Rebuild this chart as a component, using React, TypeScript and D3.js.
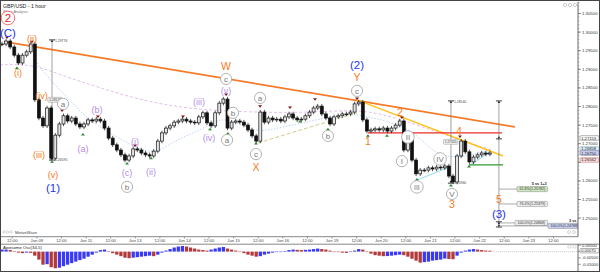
import React from "react";
import * as d3 from "d3";

// ---------- DATA ----------
// 2-hour closes, GBP/USD
const closes = [
  1.2968, 1.2976, 1.296, 1.2938, 1.2917, 1.2938, 1.2947, 1.2968, 1.2818, 1.2769,
  1.2748, 1.2796, 1.2661, 1.2723, 1.2753, 1.2775, 1.2761, 1.2769, 1.2753, 1.2745,
  1.2753, 1.2764, 1.2761, 1.2766, 1.2761, 1.2742, 1.2715, 1.2697, 1.2683, 1.267,
  1.2656, 1.2667, 1.2686, 1.2683, 1.2675, 1.267, 1.2667, 1.268, 1.2707, 1.2729,
  1.2742, 1.2748, 1.2758, 1.2761, 1.2766, 1.2761, 1.2758, 1.2756, 1.2772, 1.2783,
  1.2756, 1.2748, 1.2783, 1.2809, 1.282, 1.2742, 1.2758, 1.2761, 1.2758, 1.275,
  1.2737, 1.2721, 1.2707, 1.2785, 1.2758, 1.2769, 1.2764, 1.2766, 1.2761, 1.2772,
  1.278, 1.2769, 1.2764, 1.2766, 1.2775, 1.2785, 1.2796, 1.2801, 1.278, 1.2769,
  1.2753, 1.2772, 1.2775, 1.278, 1.278, 1.2785, 1.2807, 1.2812, 1.2764, 1.2734,
  1.2737, 1.274, 1.2737, 1.2742, 1.2734, 1.2742, 1.275, 1.2761, 1.2683, 1.271,
  1.2656, 1.2619, 1.2629, 1.2629, 1.2635, 1.2632, 1.2637, 1.2635, 1.264, 1.2613,
  1.2597, 1.2667, 1.2707, 1.2678, 1.2651, 1.2664, 1.267, 1.2675, 1.2672, 1.2675,
];
const HOURS_PER_BAR = 2;

// Awesome Oscillator (34,5)
const aoValues = [
  0.0016, 0.0016, 0.0012, 0.0002, -0.0008, -0.0012, -0.0008, -0.001, -0.0032, -0.0063,
  -0.0103, -0.0099, -0.0123, -0.0131, -0.0127, -0.0115, -0.0103, -0.0091, -0.0079, -0.0067,
  -0.0056, -0.004, -0.0024, -0.0008, 0.0012, 0.0016, 0.0004, -0.0012, -0.0024, -0.0036,
  -0.0048, -0.0052, -0.0048, -0.0044, -0.004, -0.0036, -0.0032, -0.0036, -0.0024, -0.0008,
  0.0008, 0.002, 0.0032, 0.004, 0.0044, 0.004, 0.0032, 0.0024, 0.0016, 0.0012,
  0.0008, 0.0016, 0.0024, 0.0032, 0.0036, 0.0024, 0.0016, 0.0008, 0.0, -0.0012,
  -0.0024, -0.0032, -0.004, -0.0036, -0.0024, -0.0016, -0.0008, -0.0004, 0.0, 0.0004,
  0.0012, 0.0016, 0.0014, 0.0012, 0.0014, 0.0016, 0.002, 0.0024, 0.002, 0.0016,
  0.0008, 0.0, -0.0004, -0.0008, -0.001, 0.0, 0.0008, 0.002, 0.0016, 0.0,
  -0.0016, -0.0028, -0.0032, -0.0036, -0.0035, -0.0032, -0.0028, -0.0024, -0.0028, -0.004,
  -0.0056, -0.0071, -0.0087, -0.0083, -0.0079, -0.0071, -0.0067, -0.0063, -0.0055, -0.0058,
  -0.006, -0.0032, -0.0008, 0.0008, 0.0016, 0.002, 0.0016, 0.0012, 0.0008, 0.0007,
];

const timeTickHours = d3.range(5, 270, 12);
const timeTickLabels = [
  "12:00", "Jun 09", "12:00", "Jun 11", "12:00", "Jun 13", "12:00", "Jun 14", "12:00", "Jun 15",
  "12:00", "Jun 16", "12:00", "Jun 19", "12:00", "Jun 20", "12:00", "Jun 21", "12:00", "Jun 22",
  "12:00", "Jun 23", "12:00",
];
const priceTicks = [1.305, 1.3, 1.295, 1.29, 1.285, 1.28, 1.275, 1.27, 1.265, 1.26, 1.255, 1.25];
const aoTicks = [0.005, 0.0, -0.005, -0.01];

// moving averages [hour, price]
const slowMA: [number, number][] = [
  [-1, 1.2912], [15.1, 1.2914], [28.3, 1.2885], [47.8, 1.285], [72.2, 1.281], [96.6, 1.2791],
  [121, 1.2785], [145.4, 1.2783], [169.8, 1.2791], [184.4, 1.2783], [203.9, 1.2748],
  [223.4, 1.271], [239, 1.2683],
];
const fastMA: [number, number][] = [
  [17.1, 1.2917], [23.4, 1.2871], [31.7, 1.2826], [39.5, 1.2777], [47.8, 1.2745], [56.1, 1.2718],
  [67.3, 1.2683], [75.6, 1.2675], [83.4, 1.2705], [93.2, 1.2729], [101.5, 1.275], [106.3, 1.2769],
  [116.1, 1.2756], [124.4, 1.2729], [137.1, 1.2745], [153.7, 1.2764], [169.8, 1.2783],
  [178, 1.2772], [185.9, 1.2764], [200.5, 1.2737], [208.8, 1.2683], [217.1, 1.2664],
  [224.9, 1.2664], [238, 1.2683],
];

// drawn trend lines [h1, p1, h2, p2]
const orangeTrend = [2.4, 1.2973, 250.2, 1.2745];
const yellowTrend = [173.2, 1.2818, 244.4, 1.2667];
const redLevel = [178.5, 1.2729, 243.9, 1.2729];
const greenLevel = [227.8, 1.2643, 244.4, 1.2643];
const oliveTrend = [124.9, 1.2702, 173.2, 1.2783];
const cyanLines = [
  [202.4, 1.2602, 217.1, 1.2635],
  [227.8, 1.264, 238, 1.2678],
];

// wave labels
type Lbl = { t: string; h: number; p: number };
const blueLabels: Lbl[] = [
  { t: "(C)", h: 2.9, p: 1.2998 }, { t: "(1)", h: 24.9, p: 1.2581 },
  { t: "(2)", h: 173.2, p: 1.2912 }, { t: "(3)", h: 242.4, p: 1.2511 },
];
const orangeBig: Lbl[] = [
  { t: "W", h: 109.3, p: 1.2909 }, { t: "X", h: 123.9, p: 1.2635 }, { t: "Y", h: 173.2, p: 1.2879 },
  { t: "1", h: 178.5, p: 1.2707 }, { t: "2", h: 194.1, p: 1.2785 }, { t: "3", h: 219.5, p: 1.2538 },
  { t: "4", h: 222.9, p: 1.2734 }, { t: "5", h: 242.4, p: 1.2551 },
];
const orangeSmall: Lbl[] = [
  { t: "(i)", h: 7.8, p: 1.289 }, { t: "(ii)", h: 14.6, p: 1.2981 }, { t: "(iii)", h: 18.0, p: 1.267 },
  { t: "(iv)", h: 19.3, p: 1.2828 }, { t: "(v)", h: 24.9, p: 1.2616 },
];
const purpleLabels: Lbl[] = [
  { t: "(a)", h: 39.5, p: 1.2686 }, { t: "(b)", h: 46.3, p: 1.2791 }, { t: "(c)", h: 61.0, p: 1.2621 },
  { t: "(i)", h: 64.9, p: 1.2705 }, { t: "(ii)", h: 72.7, p: 1.2624 }, { t: "(iii)", h: 96.1, p: 1.2812 },
  { t: "(iv)", h: 101.0, p: 1.2715 }, { t: "(v)", h: 109.3, p: 1.2842 },
];
const circleLabels: Lbl[] = [
  { t: "a", h: 29.8, p: 1.2807 }, { t: "b", h: 61.0, p: 1.2584 }, { t: "c", h: 109.3, p: 1.2874 },
  { t: "b", h: 112.7, p: 1.2783 }, { t: "a", h: 109.8, p: 1.271 }, { t: "c", h: 123.9, p: 1.2672 },
  { t: "a", h: 125.9, p: 1.2823 }, { t: "b", h: 159.0, p: 1.2721 }, { t: "c", h: 173.2, p: 1.2842 },
  { t: "I", h: 195.1, p: 1.2653 }, { t: "II", h: 198.0, p: 1.2718 }, { t: "III", h: 202.4, p: 1.2584 },
  { t: "IV", h: 213.7, p: 1.2659 }, { t: "V", h: 219.5, p: 1.2565 },
];
const redCircleLabel: Lbl = { t: "2", h: 2.9, p: 1.3038 };

// swing markers [hour, price]
const highMarks: [number, number][] = [
  [2.4, 1.2984], [14.6, 1.2973], [29.3, 1.2788], [46.8, 1.2772], [64.9, 1.2694], [88.3, 1.2772],
  [109.3, 1.2831], [125.9, 1.2799], [140.5, 1.2796], [152.7, 1.2818], [173.2, 1.282],
  [195.1, 1.2769], [223.4, 1.2718],
];
const lowMarks: [number, number][] = [
  [7.3, 1.2905], [24.4, 1.2653], [39.5, 1.2726], [61.0, 1.2648], [72.7, 1.2662], [101.5, 1.274],
  [110.2, 1.2729], [123.9, 1.2702], [145.4, 1.2761], [159.0, 1.274], [178.5, 1.2723],
  [187.8, 1.2723], [202.4, 1.2605], [219.0, 1.2589], [227.8, 1.264],
];

// measuring tools
const measureTools = [
  { h: 24.4, top: 1.2979, bottom: 1.2656, caps: [1.2979, 1.2656], topLbl: "1.29776", botLbl: "1.26595", box: { p: 1.2818, t: "1.28175", dh: 1.6 } },
  { h: 219.0, top: 1.2815, bottom: 1.2594, caps: [1.2815, 1.2594], topLbl: "1.28140", botLbl: "1.25960", box: { p: 1.2705, t: "1.27055", dh: 0 } },
  { h: 242.4, top: 1.2815, bottom: 1.2476, caps: [1.2815, 1.2713, 1.249, 1.2476], topLbl: "", botLbl: "", box: null },
];
const fibLevels = [
  { p: 1.2578, t: "61.8%(1.25782)", endH: 251.2, fill: "#cfe8c0", head: "5 vs 1+3" },
  { p: 1.2538, t: "76.4%(1.25379)", endH: 251.2, fill: "#ececec", head: "" },
  { p: 1.2487, t: "100.0%(1.24868)", endH: 250.2, fill: "#ececec", head: "" },
  { p: 1.2479, t: "100.0%(1.24788)", endH: 266.3, fill: "#c9cff2", head: "3 vs 1" },
];
const axisBoxes = [
  { p: 1.27153, t: "1.27153", fill: "#ffffff", stroke: "#666" },
  { p: 1.26858, t: "1.26858", fill: "#dff1fb", stroke: "#7ab" },
  { p: 1.2675, t: "1.26750", fill: "#cfd3f7", stroke: "#557" },
  { p: 1.26562, t: "1.26562", fill: "#f8dcdc", stroke: "#c66" },
];

// ---------- COMPONENT ----------
const FONT = "'Liberation Sans', Arial, sans-serif";

export default function App() {
  const W = 600, H = 272;
  const axisX = 578;
  const x = d3.scaleLinear().domain([0, 269]).range([2, 2 + 269 * 2.05]);
  const y = d3.scaleLinear().domain([1.25, 1.305]).range([218.1, 13.5]);
  const yo = d3.scaleLinear().domain([-0.01, 0.01]).range([251.6 + 12.7, 251.6 - 12.7]);
  const barStep = x(HOURS_PER_BAR) - x(0);

  const lineGen = d3
    .line<[number, number]>()
    .x((d) => x(d[0]))
    .y((d) => y(d[1]))
    .curve(d3.curveBasis);

  const seg = (s: number[], props: any, key: any) => (
    <line key={key} x1={x(s[0])} y1={y(s[1])} x2={x(s[2])} y2={y(s[3])} {...props} />
  );

  const minorTicks = d3.range(1.25, 1.3081, 0.001);
  // hide price tick labels hidden behind the axis boxes
  const visiblePriceTicks = priceTicks.filter(
    (p) => !axisBoxes.some((b) => Math.abs(y(b.p) - y(p)) < 4.2)
  );

  return (
    <svg
      width={W}
      height={H}
      style={{ position: "absolute", left: 0, top: 0, background: "#fff" }}
      fontFamily={FONT}
    >
      <defs>
        <clipPath id="pricePanel">
          <rect x={1} y={2} width={axisX - 1} height={234} />
        </clipPath>
      </defs>

      {/* title */}
      <text x={3} y={7.5} fontSize={5.2} fill="#222">GBP/USD - 1 hour</text>
      <text x={3} y={12.5} fontSize={3.8} fill="#777">Wave Analysis</text>

      <g clipPath="url(#pricePanel)">
        {/* moving averages */}
        <path d={lineGen(slowMA) || ""} fill="none" stroke="#dcb0e4" strokeWidth={0.8} strokeDasharray="3,2" />
        <path d={lineGen(fastMA) || ""} fill="none" stroke="#a9c9f2" strokeWidth={0.8} strokeDasharray="1.5,1.5" />

        {/* trend lines */}
        {seg(oliveTrend, { stroke: "#cfcf8a", strokeWidth: 1, strokeDasharray: "4,2" }, "olive")}
        {cyanLines.map((s, i) => seg(s, { stroke: "#8fdcf2", strokeWidth: 1 }, "cy" + i))}
        {seg(orangeTrend, { stroke: "#f57a2a", strokeWidth: 1.7 }, "orange")}
        {seg(yellowTrend, { stroke: "#ffc21a", strokeWidth: 1.4 }, "yellow")}
        {seg(redLevel, { stroke: "#ec2a2a", strokeWidth: 1.3 }, "red")}
        {seg(greenLevel, { stroke: "#2f9a2f", strokeWidth: 1.3 }, "green")}

        {/* measuring tools */}
        {measureTools.map((m, i) => {
          const xx = x(m.h);
          return (
            <g key={"m" + i} stroke="#777" fill="none">
              <line x1={xx} x2={xx} y1={y(m.top)} y2={y(m.bottom)} strokeWidth={0.7} />
              {m.caps.map((c, j) => (
                <g key={j}>
                  <line x1={xx - 3} x2={xx + 3} y1={y(c)} y2={y(c)} stroke="#222" strokeWidth={0.9} />
                  <path
                    d={`M${xx - 1.3},${y(c) + (j === 0 || j === 2 ? 2.2 : -2.2)} L${xx + 1.3},${y(c) + (j === 0 || j === 2 ? 2.2 : -2.2)} L${xx},${y(c)} Z`}
                    fill="#222"
                    stroke="none"
                  />
                </g>
              ))}
              {m.topLbl && (
                <text x={xx + 3} y={y(m.top) + 2} fontSize={3.4} fill="#444" stroke="none">{m.topLbl}</text>
              )}
              {m.botLbl && (
                <text x={xx + 3} y={y(m.bottom) + 0.5} fontSize={3.4} fill="#444" stroke="none">{m.botLbl}</text>
              )}
              {m.box && (
                <g>
                  <rect x={x(m.h + m.box.dh) - 7.5} y={y(m.box.p) - 2.5} width={14.5} height={5} rx={1} fill="#f0f0f0" stroke="#999" strokeWidth={0.5} />
                  <text x={x(m.h + m.box.dh) - 0.2} y={y(m.box.p) + 1.2} fontSize={3.3} fill="#444" stroke="none" textAnchor="middle">{m.box.t}</text>
                </g>
              )}
            </g>
          );
        })}

        {/* fib extension levels */}
        {fibLevels.map((f, i) => {
          const x0 = x(242.4);
          const xe = x(f.endH);
          const yy = y(f.p);
          const bw = f.t.length * 2.05 + 2;
          return (
            <g key={"f" + i}>
              <line x1={x0} x2={xe} y1={yy} y2={yy} stroke="#888" strokeWidth={0.7} />
              <rect x={xe} y={yy - 2.6} width={bw} height={5.2} rx={1.2} fill={f.fill} stroke="#888" strokeWidth={0.5} />
              <text x={xe + bw / 2} y={yy + 1.3} fontSize={3.6} fill="#333" textAnchor="middle">{f.t}</text>
              {f.head && (
                <text x={xe + bw - 1} y={yy - 4} fontSize={3.8} fontWeight="bold" fill="#222" textAnchor="end">{f.head}</text>
              )}
            </g>
          );
        })}

        {/* candles */}
        {closes.map((c, i) => {
          const o = i === 0 ? closes[0] : closes[i - 1];
          const cx = x(i * HOURS_PER_BAR);
          const top = y(Math.max(o, c));
          const bot = y(Math.min(o, c));
          const bear = c < o;
          const bw = barStep * 0.72;
          return (
            <g key={"c" + i}>
              <line x1={cx} x2={cx} y1={top - 2.2} y2={bot + 2.2} stroke="#111" strokeWidth={0.7} />
              <rect
                x={cx - bw / 2}
                y={top}
                width={bw}
                height={Math.max(bot - top, 0.8)}
                fill={bear ? "#111" : "#e6e6e6"}
                stroke="#111"
                strokeWidth={0.7}
              />
            </g>
          );
        })}

        {/* swing markers */}
        {highMarks.map((m, i) => {
          const cx = x(m[0]), cy = y(m[1]);
          return <path key={"hm" + i} d={`M${cx - 2},${cy - 1.5} L${cx + 2},${cy - 1.5} L${cx},${cy + 1} Z`} fill="#7d1414" />;
        })}
        {lowMarks.map((m, i) => {
          const cx = x(m[0]), cy = y(m[1]);
          return <path key={"lm" + i} d={`M${cx - 2},${cy + 1.5} L${cx + 2},${cy + 1.5} L${cx},${cy - 1} Z`} fill="#2d8a2d" />;
        })}

        {/* wave labels */}
        {circleLabels.map((l, i) => (
          <g key={"cl" + i}>
            <circle cx={x(l.h)} cy={y(l.p)} r={l.t.length > 1 ? 6.3 : 5.6} fill="#fff" stroke="#aaa" strokeWidth={0.9} />
            <text x={x(l.h)} y={y(l.p) + 2.8} fontSize={l.t.length > 2 ? 6.8 : 8} fill="#777" textAnchor="middle">{l.t}</text>
          </g>
        ))}
        {purpleLabels.map((l, i) => (
          <text key={"pl" + i} x={x(l.h)} y={y(l.p) + 3} fontSize={9} fill="#b58ee6" textAnchor="middle">{l.t}</text>
        ))}
        {orangeSmall.map((l, i) => (
          <text key={"os" + i} x={x(l.h)} y={y(l.p) + 3} fontSize={9} fill="#f47a22" textAnchor="middle">{l.t}</text>
        ))}
        {orangeBig.map((l, i) => (
          <text key={"ob" + i} x={x(l.h)} y={y(l.p) + 3.6} fontSize={10.5} fill="#f47a22" textAnchor="middle">{l.t}</text>
        ))}
        {blueLabels.map((l, i) => (
          <text key={"bl" + i} x={x(l.h)} y={y(l.p) + 4} fontSize={11.5} fill="#2233ee" textAnchor="middle">{l.t}</text>
        ))}
        <circle cx={x(redCircleLabel.h)} cy={y(redCircleLabel.p)} r={6.8} fill="#fff" stroke="#f06060" strokeWidth={0.9} />
        <text x={x(redCircleLabel.h)} y={y(redCircleLabel.p) + 4} fontSize={11.5} fill="#e8261c" textAnchor="middle">{redCircleLabel.t}</text>
      </g>

      {/* price axis */}
      <line x1={axisX} x2={axisX} y1={2} y2={236.7} stroke="#444" strokeWidth={0.8} />
      {minorTicks.map((p, i) => (
        <line key={"mt" + i} x1={axisX} x2={axisX + 1.5} y1={y(p)} y2={y(p)} stroke="#666" strokeWidth={0.4} />
      ))}
      {priceTicks.map((p, i) => (
        <line key={"ptk" + i} x1={axisX} x2={axisX + 3} y1={y(p)} y2={y(p)} stroke="#444" strokeWidth={0.6} />
      ))}
      {visiblePriceTicks.map((p, i) => (
        <text key={"pt" + i} x={axisX + 4} y={y(p) + 1.5} fontSize={4.3} fill="#333">{p.toFixed(5)}</text>
      ))}
      {axisBoxes.map((b, i) => (
        <g key={"ab" + i}>
          <rect x={axisX + 2} y={y(b.p) - 2.3} width={19} height={4.6} rx={1} fill={b.fill} stroke={b.stroke} strokeWidth={0.5} />
          <text x={axisX + 3.2} y={y(b.p) + 1.5} fontSize={4.1} fill="#222">{b.t}</text>
        </g>
      ))}
      {/* top-right icons */}
      {[0, 1, 2].map((i) => (
        <circle key={"ic" + i} cx={565 + i * 5} cy={5} r={1.6} fill="none" stroke="#999" strokeWidth={0.5} />
      ))}
      {[0, 1].map((i) => (
        <circle key={"ic2" + i} cx={569 + i * 5} cy={232} r={1.5} fill="none" stroke="#aaa" strokeWidth={0.5} />
      ))}

      {/* bottom-left watermark */}
      {[0, 1, 2].map((i) => (
        <circle key={"mw" + i} cx={4 + i * 3.5} cy={232} r={1.2} fill="none" stroke="#999" strokeWidth={0.4} />
      ))}
      <text x={15} y={233.5} fontSize={4} fill="#444">MotiveWave</text>

      {/* time axis */}
      <line x1={0} x2={axisX} y1={236.7} y2={236.7} stroke="#555" strokeWidth={0.7} />
      {timeTickHours.map((h, i) => (
        <g key={"tt" + i}>
          <line x1={x(h)} x2={x(h)} y1={236.7} y2={238.6} stroke="#555" strokeWidth={0.5} />
          <text x={x(h)} y={242.3} fontSize={4.2} fill="#444" textAnchor="middle">{timeTickLabels[i]}</text>
        </g>
      ))}
      <line x1={0} x2={W} y1={244.2} y2={244.2} stroke="#555" strokeWidth={0.7} />

      {/* oscillator */}
      <text x={3} y={249.3} fontSize={4.3} fill="#222">Awesome Osc(34,5)</text>
      {aoValues.map((v, i) => {
        const prev = i === 0 ? v : aoValues[i - 1];
        const up = v >= prev;
        const cx = x(i * HOURS_PER_BAR);
        const y0 = yo(0), y1 = yo(v);
        return (
          <rect
            key={"ao" + i}
            x={cx - barStep * 0.4}
            y={Math.min(y0, y1)}
            width={barStep * 0.8}
            height={Math.max(Math.abs(y1 - y0), 0.5)}
            fill={up ? "#3a3af5" : "#b23a3a"}
          />
        );
      })}
      <line
        x1={x((aoValues.length - 1) * HOURS_PER_BAR) + 2}
        x2={axisX}
        y1={yo(0)}
        y2={yo(0)}
        stroke="#aaa"
        strokeWidth={0.6}
        strokeDasharray="1,1"
      />
      <line x1={axisX} x2={axisX} y1={244.2} y2={271} stroke="#444" strokeWidth={0.8} />
      {aoTicks.map((v, i) => (
        <g key={"aot" + i}>
          <line x1={axisX} x2={axisX + 3} y1={yo(v)} y2={yo(v)} stroke="#444" strokeWidth={0.5} />
          {v !== 0 && (
            <text x={axisX + 4} y={yo(v) + 1.5} fontSize={4.1} fill="#333">{v.toFixed(5)}</text>
          )}
        </g>
      ))}
      <rect x={axisX + 2} y={yo(aoValues[aoValues.length - 1]) - 2.2} width={19} height={4.4} rx={1} fill="#fff" stroke="#666" strokeWidth={0.5} />
      <text x={axisX + 3.2} y={yo(aoValues[aoValues.length - 1]) + 1.4} fontSize={4} fill="#222">
        {aoValues[aoValues.length - 1].toFixed(5)}
      </text>
      {[0, 1].map((i) => (
        <rect key={"oi" + i} x={568 + i * 5} y={245} width={3} height={3} fill="none" stroke="#aaa" strokeWidth={0.4} />
      ))}

      {/* frame */}
      <rect x={0.5} y={0.5} width={W - 1} height={H - 1} fill="none" stroke="#444" strokeWidth={1} />
    </svg>
  );
}
